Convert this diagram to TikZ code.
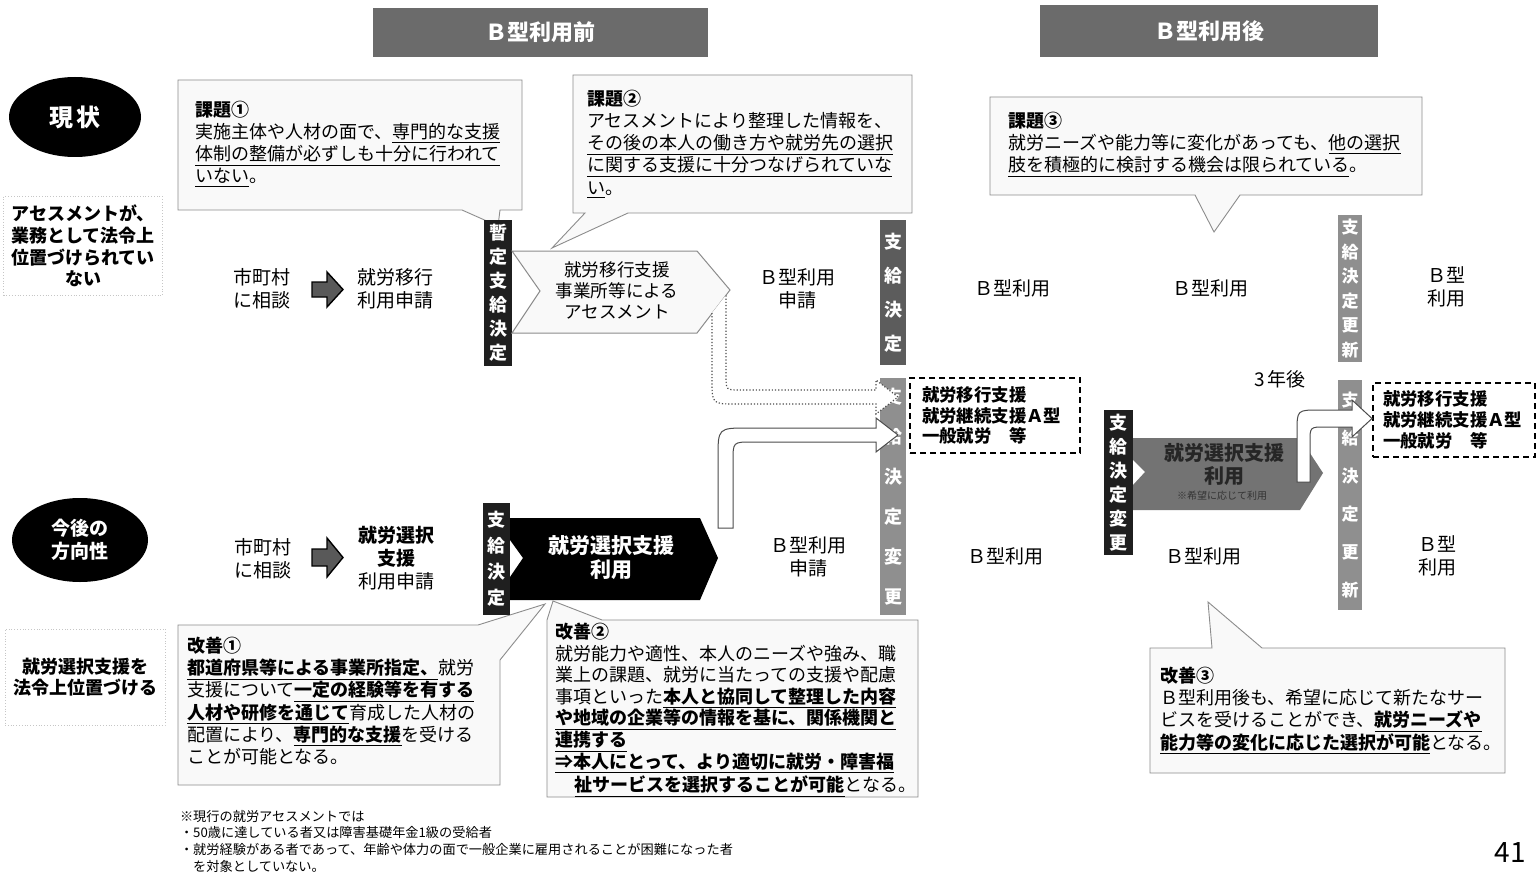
\documentclass[tikz,border=0pt]{standalone}
\usepackage{fontspec}
\setmainfont{Noto Sans CJK JP}
\usetikzlibrary{shapes.geometric,shapes.arrows}
\definecolor{hdrgray}{gray}{0.42}
\definecolor{bardark}{gray}{0.12}
\definecolor{barmid}{gray}{0.36}
\definecolor{barlight}{gray}{0.56}
\definecolor{callfill}{gray}{0.975}
\definecolor{framegray}{gray}{0.55}
\definecolor{pentgray}{gray}{0.45}
\definecolor{arrowgray}{gray}{0.35}
\tikzset{
  every node/.style={inner sep=0pt, outer sep=0pt},
  txt/.style={align=center, font=\fontsize{9.5}{11.5}\selectfont},
  hdrbox/.style={fill=hdrgray, text=white, font=\bfseries\fontsize{11}{13}\selectfont},
  vbar/.style={text=white, align=center},
  callout/.style={fill=callfill, draw=framegray, line width=0.45pt},
  calltext/.style={anchor=north west, align=left, font=\fontsize{9}{11.1}\selectfont},
  blockarrow/.style={fill=arrowgray, draw=black, line width=0.7pt},
  dashbox/.style={draw, line width=1pt, dash pattern=on 3pt off 2pt, anchor=north west, align=left, font=\bfseries\fontsize{8.7}{10.3}\selectfont},
  blob/.style={ellipse, fill=black, text=white, align=center},
  sidelabel/.style={draw=gray!45, densely dotted, align=center, font=\bfseries\fontsize{9}{10.8}\selectfont},
  hollow/.style={fill=white, draw=gray!60!black, line width=0.5pt},
}
\begin{document}
\begin{tikzpicture}[x=0.5pt, y=-0.5pt]
\useasboundingbox (0,0) rectangle (1540,877);
\fill[white] (0,0) rectangle (1540,877);

% headers
\node[hdrbox, minimum width=167.5pt, minimum height=24.5pt] (h1) at (540.5,32.5) {Ｂ型利用前};
\node[hdrbox, minimum width=169pt, minimum height=26pt] (h2) at (1209,31) {Ｂ型利用後};

% row labels
\node[blob, minimum width=66pt, minimum height=40pt, font=\bfseries\fontsize{12}{14}\selectfont] (now) at (75,117) {現\,状};
\node[blob, minimum width=68pt, minimum height=42pt, font=\bfseries\fontsize{9.5}{11.5}\selectfont] (future) at (80,540) {今後の\\方向性};
\node[sidelabel, minimum width=79.5pt, minimum height=49.5pt] (lb1) at (83,246) {アセスメントが、\\業務として法令上\\位置づけられてい\\ない};
\node[sidelabel, minimum width=80pt, minimum height=48pt] (lb2) at (85,677) {就労選択支援を\\法令上位置づける};

% callouts (shapes with tails)
\path[callout] (178,80) -- (522,80) -- (522,210) -- (500,210) -- (498,226) -- (462,210) -- (178,210) -- cycle;
\path[callout] (573,75) -- (912,75) -- (912,213) -- (628,213) -- (552,248) -- (585,213) -- (573,213) -- cycle;
\path[callout] (990,97) -- (1422,97) -- (1422,195) -- (1240,195) -- (1214,232) -- (1195,195) -- (990,195) -- cycle;
\path[callout] (178,625) -- (478,625) -- (545,604) -- (500,660) -- (500,785) -- (178,785) -- cycle;
\path[callout] (547,620) -- (553,601) -- (602,620) -- (918,620) -- (918,797) -- (547,797) -- cycle;
\path[callout] (1150,648) -- (1212,648) -- (1208,602) -- (1262,648) -- (1505,648) -- (1505,773) -- (1150,773) -- cycle;

\node[calltext] (k1) at (195,101) {\textbf{課題①}\\
実施主体や人材の面で、\underline{専門的な支援}\\
\underline{体制の整備が必ずしも十分に行われて}\\
\underline{いない}。};
\node[calltext] (k2) at (587,90) {\textbf{課題②}\\
アセスメントにより整理した情報を、\\
\underline{その後の本人の働き方や就労先の選択}\\
\underline{に関する支援に十分つなげられていな}\\
\underline{い}。};
\node[calltext] (k3) at (1008,112) {\textbf{課題③}\\
就労ニーズや能力等に変化があっても、\underline{他の選択}\\
\underline{肢を積極的に検討する機会は限られている}。};
\node[calltext] (i1) at (187,637) {\textbf{改善①}\\
\underline{\textbf{都道府県等による事業所指定、}}就労\\
支援について\underline{\textbf{一定の経験等を有する}}\\
\underline{\textbf{人材や研修を通じて}}育成した人材の\\
配置により、\underline{\textbf{専門的な支援}}を受ける\\
ことが可能となる。};
\node[calltext, font=\fontsize{9}{10.8}\selectfont] (i2) at (555,623) {\textbf{改善②}\\
就労能力や適性、本人のニーズや強み、職\\
業上の課題、就労に当たっての支援や配慮\\
事項といった\underline{\textbf{本人と協同して整理した内容}}\\
\underline{\textbf{や地域の企業等の情報を基に、関係機関と}}\\
\underline{\textbf{連携する}}\\
\underline{\textbf{⇒本人にとって、より適切に就労・障害福}}\\
\hspace*{1.1em}\underline{\textbf{祉サービスを選択することが可能}}となる。};
\node[calltext] (i3) at (1160,667) {\textbf{改善③}\\
Ｂ型利用後も、希望に応じて新たなサー\\
ビスを受けることができ、\underline{\textbf{就労ニーズや}}\\
\underline{\textbf{能力等の変化に応じた選択が可能}}となる。};

% ---------- current row ----------
\node[txt] (city1) at (262,289) {市町村\\に相談};
\path[blockarrow] (312,282) -- (327,282) -- (327,272) -- (343,289.5) -- (327,307) -- (327,297) -- (312,297) -- cycle;
\node[txt] (apply1) at (395,289) {就労移行\\利用申請};
\node[vbar, fill=bardark, minimum width=14pt, minimum height=73pt, font=\bfseries\fontsize{9}{12}\selectfont] (b1) at (498,293) {暫\\定\\支\\給\\決\\定};
\path[fill=callfill, draw=framegray, line width=0.5pt] (512,251) -- (697,251) -- (730,290) -- (697,333) -- (512,333) -- (540,291) -- cycle;
\node[txt, font=\fontsize{8.8}{10.5}\selectfont] (assess) at (617,290) {就労移行支援\\事業所等による\\アセスメント};
\node[txt] (bapply1) at (797,289) {Ｂ型利用\\申請};
\node[vbar, fill=barmid, minimum width=13pt, minimum height=72.5pt, font=\bfseries\fontsize{9}{17}\selectfont] (b2) at (893,292.5) {支\\給\\決\\定};
\node[txt] (bu1) at (1012,288) {Ｂ型利用};
\node[txt] (bu2) at (1210,288) {Ｂ型利用};
\node[vbar, fill=barlight, minimum width=12pt, minimum height=73.5pt, font=\bfseries\fontsize{8.5}{12.3}\selectfont] (b6) at (1350,288.5) {支\\給\\決\\定\\更\\新};
\node[txt] (bu3) at (1446,287) {Ｂ型\\利用};

% ---------- future row ----------
\node[txt] (city2) at (263,559) {市町村\\に相談};
\path[blockarrow] (312,549) -- (327,549) -- (327,538) -- (343,557.5) -- (327,577) -- (327,566) -- (312,566) -- cycle;
\node[txt] (apply2) at (396,558) {\textbf{就労選択}\\\textbf{支援}\\利用申請};
\node[vbar, fill=bardark, minimum width=13.5pt, minimum height=56pt, font=\bfseries\fontsize{9}{13}\selectfont] (b3) at (496.5,559) {支\\給\\決\\定};
\path[fill=black] (510,518) -- (700,518) -- (718,558) -- (700,600) -- (510,600) -- (510,577) -- (523,558) -- (510,540) -- cycle;
\node[txt, text=white, font=\bfseries\fontsize{10.5}{12}\selectfont] (sel1) at (611,558) {就労選択支援\\利用};
\node[txt] (bapply2) at (808,557) {Ｂ型利用\\申請};
\node[vbar, fill=barlight, minimum width=13pt, minimum height=118.5pt, font=\bfseries\fontsize{9}{20}\selectfont] (b4) at (893,496.5) {支\\給\\決\\定\\変\\更};
\node[txt] (bu4) at (1005,556) {Ｂ型利用};
\node[vbar, fill=bardark, minimum width=14.5pt, minimum height=72.5pt, font=\bfseries\fontsize{9}{12}\selectfont] (b5) at (1118.5,482.5) {支\\給\\決\\定\\変\\更};
\path[fill=pentgray] (1133,438) -- (1300,438) -- (1323,473) -- (1300,510) -- (1133,510) -- (1133,485) -- (1145,472) -- (1133,460) -- cycle;
\node[txt, text=black!85, font=\bfseries\fontsize{10}{11.5}\selectfont] (sel2) at (1224,464) {就労選択支援\\利用};
\node[txt, text=black!80, font=\fontsize{5}{6}\selectfont] (sel2note) at (1222,496) {※希望に応じて利用};
\node[txt] (bu5) at (1203,556) {Ｂ型利用};
\node[vbar, fill=barlight, minimum width=12pt, minimum height=115pt, font=\bfseries\fontsize{8.5}{19}\selectfont] (b7) at (1350,495) {支\\給\\決\\定\\更\\新};
\node[txt] (bu6) at (1437,556) {Ｂ型\\利用};
\node[txt] (after3) at (1280,379) {3\,年後};

% dashed target boxes
\node[dashbox, text width=73pt, inner xsep=6pt, minimum height=37.5pt] (db1) at (910,378) {就労移行支援\\就労継続支援Ａ型\\一般就労　等};
\node[dashbox, text width=71pt, inner xsep=5pt, minimum height=37pt] (db2) at (1373,383) {就労移行支援\\就労継続支援Ａ型\\一般就労　等};

% hollow bent arrows
\fill[white] (712,313) -- (712,380) .. controls (712,404) .. (736,404) -- (876,404) -- (876,414) -- (898,397) -- (876,380) -- (876,390) -- (740,390) .. controls (726,390) .. (726,376) -- (726,295) -- cycle;
\draw[gray!60!black, line width=0.6pt, densely dotted] (712,313) -- (712,380) .. controls (712,404) .. (736,404) -- (876,404) -- (876,414) -- (898,397) -- (876,380) -- (876,390) -- (740,390) .. controls (726,390) .. (726,376) -- (726,295);
\path[hollow] (718,528) -- (718,458) .. controls (718,428) .. (748,428) -- (876,428) -- (876,418) -- (898,435) -- (876,452) -- (876,442) -- (752,442) .. controls (733,442) .. (733,461) -- (733,528) -- cycle;
\path[hollow] (1297,482) -- (1297,432) .. controls (1297,410) .. (1319,410) -- (1352,410) -- (1352,400) -- (1372,418.5) -- (1352,437) -- (1352,427) -- (1325,427) .. controls (1310,427) .. (1310,442) -- (1310,482) -- cycle;

% footnote and page number
\node[anchor=north west, align=left, font=\fontsize{6.6}{8.4}\selectfont] (note) at (180,810) {※現行の就労アセスメントでは\\
・50歳に達している者又は障害基礎年金1級の受給者\\
・就労経験がある者であって、年齢や体力の面で一般企業に雇用されることが困難になった者\\
\hspace*{1em}を対象としていない。};
\node[font=\fontsize{14}{16}\selectfont] (page) at (1510,853) {41};
\end{tikzpicture}
\end{document}
